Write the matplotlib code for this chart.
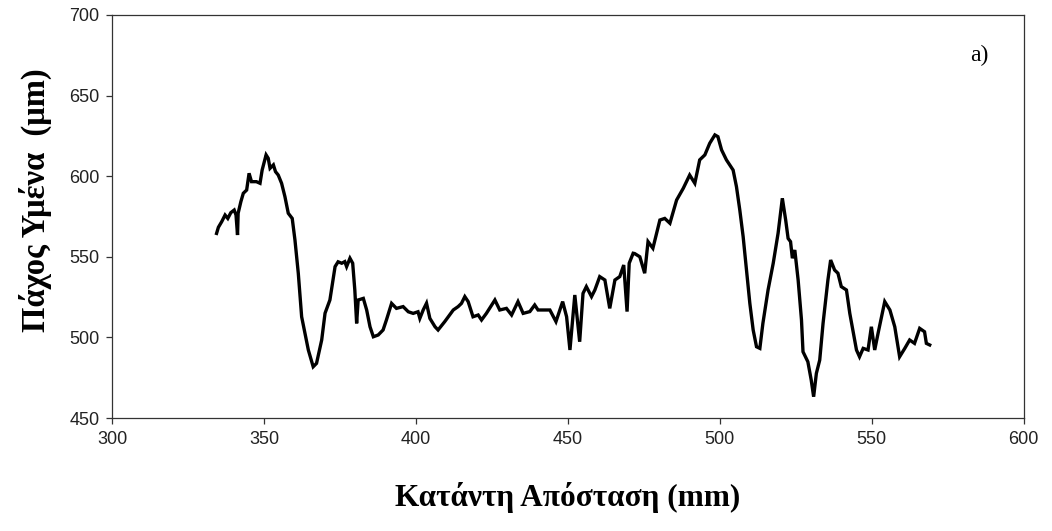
import matplotlib
matplotlib.use("Agg")
import matplotlib.pyplot as plt
import numpy as np

# Κατάντη απόσταση (mm) και πάχος υμένα (μm), διαβασμένα από το γράφημα
distance = [
    334.4, 335.0, 336.1, 337.2, 338.1, 339.1, 340.2, 340.8, 341.3, 341.5,
    342.4, 343.2, 344.3, 345.1, 345.9, 347.5, 348.7, 349.4, 350.7, 351.4,
    352.0, 353.1, 353.8, 354.7, 355.8, 356.9, 358.0, 359.3, 360.2, 361.3,
    362.4, 363.5, 364.6, 366.2, 367.3, 369.0, 370.1, 371.7, 373.4, 374.4,
    375.6, 376.6, 377.2, 378.3, 379.2, 379.9, 380.5, 381.0, 382.7, 383.8,
    384.9, 386.0, 387.6, 389.2, 390.3, 392.0, 393.6, 395.8, 397.5, 399.1,
    400.7, 401.3, 402.4, 403.5, 404.6, 406.3, 407.3, 409.5, 412.3, 413.9,
    415.0, 416.1, 417.2, 418.8, 420.5, 421.6, 423.2, 426.0, 427.6, 429.8,
    431.5, 433.6, 435.3, 437.5, 439.1, 440.2, 444.1, 446.1, 448.3, 449.6,
    450.7, 452.3, 453.9, 455.0, 456.1, 457.8, 458.9, 460.5, 462.2, 463.8,
    465.5, 467.1, 468.4, 469.5, 470.2, 471.5, 472.0, 473.7, 475.3, 476.4,
    478.0, 480.3, 481.9, 483.6, 485.8, 488.0, 490.1, 491.8, 493.4, 495.1,
    496.7, 498.4, 499.4, 500.6, 502.2, 504.4, 505.5, 506.6, 507.7, 508.8,
    509.9, 511.0, 512.1, 513.2, 514.2, 515.9, 517.6, 519.2, 520.6, 521.7,
    522.5, 523.3, 523.9, 524.7, 525.8, 526.9, 527.4, 529.0, 530.1, 530.9,
    531.8, 532.9, 534.0, 535.6, 536.5, 537.8, 538.9, 540.0, 541.7, 542.8,
    545.0, 546.0, 547.2, 548.8, 549.9, 551.0, 552.1, 554.3, 556.0, 557.6,
    559.2, 560.9, 562.5, 564.1, 565.8, 567.4, 568.0, 569.1,
]
thickness = [
    564.5, 568.3, 571.8, 575.9, 573.8, 577.4, 579.0, 575.9, 563.5, 577.0,
    584.2, 589.4, 591.4, 601.8, 596.6, 596.6, 595.6, 603.8, 613.2, 611.1,
    604.9, 607.0, 602.8, 600.7, 595.6, 587.3, 577.0, 573.8, 560.4, 539.7,
    512.8, 502.5, 492.2, 481.8, 483.9, 498.4, 515.0, 523.2, 543.9, 546.9,
    546.0, 547.0, 543.9, 549.1, 546.0, 529.4, 508.7, 523.2, 524.2, 517.0,
    506.6, 500.4, 501.5, 504.6, 510.8, 521.1, 518.0, 519.1, 515.9, 514.9,
    515.9, 511.8, 517.0, 521.2, 511.8, 506.6, 504.6, 509.8, 517.0, 519.1,
    521.1, 525.3, 522.2, 512.8, 513.9, 510.8, 514.9, 523.2, 517.0, 518.0,
    513.9, 522.2, 514.9, 516.0, 520.1, 517.0, 517.0, 509.8, 522.2, 512.8,
    492.2, 526.3, 497.3, 527.3, 531.5, 525.3, 529.4, 537.7, 535.6, 518.0,
    535.6, 537.7, 544.9, 516.0, 546.0, 552.2, 552.0, 550.0, 539.8, 559.4,
    555.3, 572.8, 573.8, 570.8, 585.2, 592.5, 600.7, 595.6, 610.1, 613.2,
    620.4, 625.6, 624.5, 616.3, 610.1, 603.8, 593.5, 579.0, 562.5, 541.8,
    521.2, 504.6, 494.2, 493.2, 508.7, 529.4, 546.0, 564.6, 586.3, 572.8,
    561.4, 559.4, 549.1, 554.2, 535.6, 510.8, 491.1, 484.9, 473.6, 463.2,
    477.7, 485.9, 508.7, 535.6, 548.0, 541.8, 539.8, 531.5, 529.4, 514.9,
    492.2, 488.0, 493.2, 492.2, 506.6, 492.2, 502.5, 522.2, 517.0, 506.6,
    488.0, 493.2, 498.4, 496.3, 505.6, 503.5, 496.3, 495.3,
]

x_ticks = [300, 350, 400, 450, 500, 550, 600]
y_ticks = [450, 500, 550, 600, 650, 700]

fig = plt.figure(figsize=(10.52, 5.31), dpi=100)
ax = fig.add_axes([0.1065, 0.2128, 0.8665, 0.759])

ax.plot(distance, thickness, color="black", linewidth=2.4, solid_joinstyle="miter")

ax.set_xlim(300, 600)
ax.set_ylim(450, 700)
ax.set_xticks(x_ticks)
ax.set_yticks(y_ticks)

for sp in ax.spines.values():
    sp.set_linewidth(0.9)
    sp.set_color("#333333")

ax.tick_params(direction="out", length=4, width=0.9, color="#333333",
               labelsize=13, pad=5)
for lbl in ax.get_xticklabels() + ax.get_yticklabels():
    lbl.set_family("Liberation Sans")
    lbl.set_color("#222222")

ax.set_xlabel("Κατάντη Απόσταση (mm)", family="Liberation Serif",
              fontweight="bold", fontsize=22.5)
ax.set_ylabel("Πάχος Υμένα  (μm)", family="Liberation Serif",
              fontweight="bold", fontsize=23.5)
ax.xaxis.set_label_coords(0.5, -0.158)
ax.yaxis.set_label_coords(-0.066, 0.54)

ax.text(585.5, 675, "a)", family="Liberation Serif", fontsize=17,
        ha="center", va="center")

fig.savefig("out.png", dpi=100)
